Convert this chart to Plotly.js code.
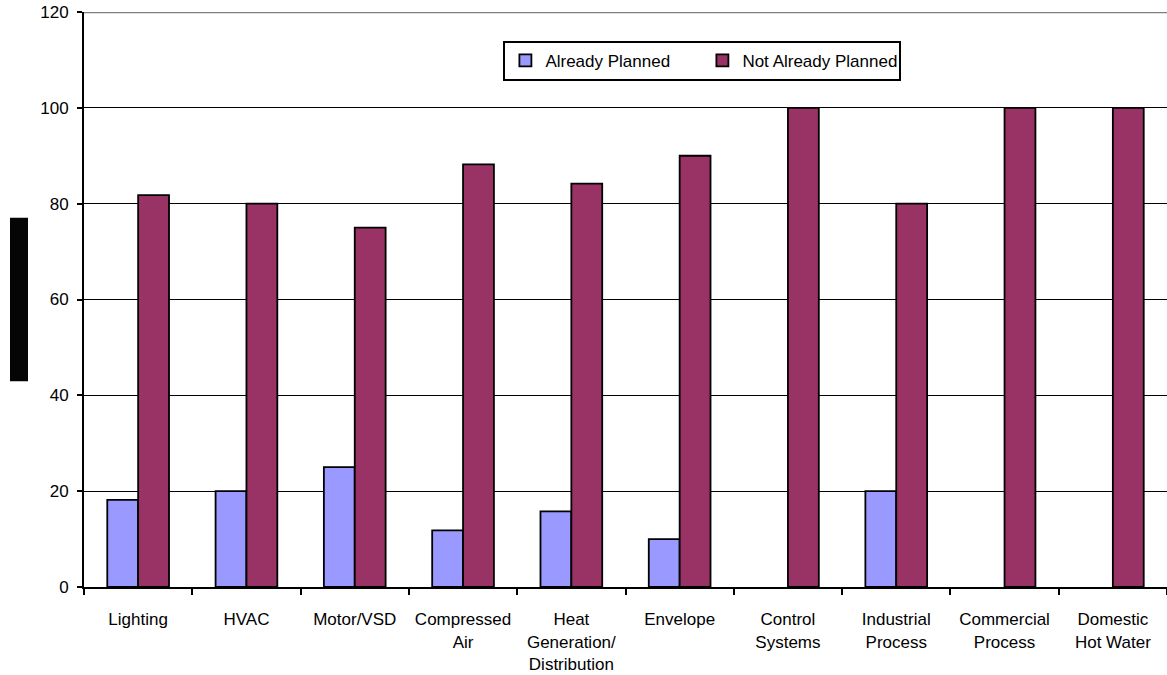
<!DOCTYPE html>
<html>
<head>
<meta charset="utf-8">
<script src="https://cdn.plot.ly/plotly-3.0.1.min.js"></script>
<style>
  html, body { margin: 0; padding: 0; background: #ffffff; }
  #chart { width: 1167px; height: 675px; }
</style>
</head>
<body>
<div id="chart"></div>
<script>
// Measure categories (multi-line labels use <br>)
const categories = [
  "Lighting",
  "HVAC",
  "Motor/VSD",
  "Compressed<br>Air",
  "Heat<br>Generation/<br>Distribution",
  "Envelope",
  "Control<br>Systems",
  "Industrial<br>Process",
  "Commercial<br>Process",
  "Domestic<br>Hot Water"
];

// Share of measures, percent
const alreadyPlanned    = [18.2, 20, 25, 11.8, 15.8, 10, 0, 20, 0, 0];
const notAlreadyPlanned = [81.8, 80, 75, 88.2, 84.2, 90, 100, 80, 100, 100];

const yTicks = [0, 20, 40, 60, 80, 100, 120];

const font = { family: "Liberation Sans, Arial, sans-serif", size: 17, color: "#000000" };

// empty bars get no outline
const outline = vals => vals.map(v => (v > 0 ? 1.8 : 0));

const traces = [
  {
    type: "bar",
    name: "Already Planned",
    x: categories,
    y: alreadyPlanned,
    marker: { color: "#9999FF", line: { color: "#000000", width: outline(alreadyPlanned) } }
  },
  {
    type: "bar",
    name: "Not Already Planned",
    x: categories,
    y: notAlreadyPlanned,
    marker: { color: "#993366", line: { color: "#000000", width: outline(notAlreadyPlanned) } }
  }
];

const layout = {
  width: 1167,
  height: 675,
  margin: { l: 84, r: 0, t: 12, b: 88 },
  paper_bgcolor: "#ffffff",
  plot_bgcolor: "#ffffff",
  font: font,
  barmode: "group",
  bargap: 0.43,
  bargroupgap: 0,
  showlegend: true,
  legend: {
    orientation: "h",
    x: 0.571,
    xanchor: "center",
    y: 0.95,
    yanchor: "top",
    bgcolor: "#ffffff",
    bordercolor: "#000000",
    borderwidth: 2,
    entrywidth: 152,
    itemwidth: 30,
    font: font,
    traceorder: "normal"
  },
  xaxis: {
    type: "category",
    tickson: "boundaries",
    ticks: "outside",
    ticklen: 6,
    tickwidth: 2,
    tickcolor: "#000000",
    showline: true,
    linecolor: "#000000",
    linewidth: 2,
    showgrid: false,
    zeroline: false,
    tickfont: font,
    ticklabelstandoff: 16,
    fixedrange: true
  },
  yaxis: {
    range: [0, 120],
    tickvals: yTicks,
    ticktext: yTicks.map(String),
    ticks: "outside",
    ticklen: 5,
    tickwidth: 2,
    tickcolor: "#000000",
    showline: true,
    linecolor: "#000000",
    linewidth: 2,
    showgrid: true,
    gridcolor: "#000000",
    gridwidth: 1,
    zeroline: false,
    tickfont: font,
    ticklabelstandoff: 5,
    fixedrange: true
  },
  shapes: [
    // grey top rule at 120
    { type: "line", xref: "paper", yref: "y", x0: 0, x1: 1.01, y0: 120, y1: 120,
      line: { color: "#808080", width: 2.5 } },
    // dark y-axis title block
    { type: "rect", xref: "paper", yref: "paper",
      x0: -74 / 1083, x1: -56 / 1083, y0: (587 - 381) / 576, y1: (587 - 217) / 576,
      fillcolor: "#050505", line: { width: 0 } }
  ]
};

Plotly.newPlot("chart", traces, layout, { displayModeBar: false, staticPlot: true });
</script>
</body>
</html>
